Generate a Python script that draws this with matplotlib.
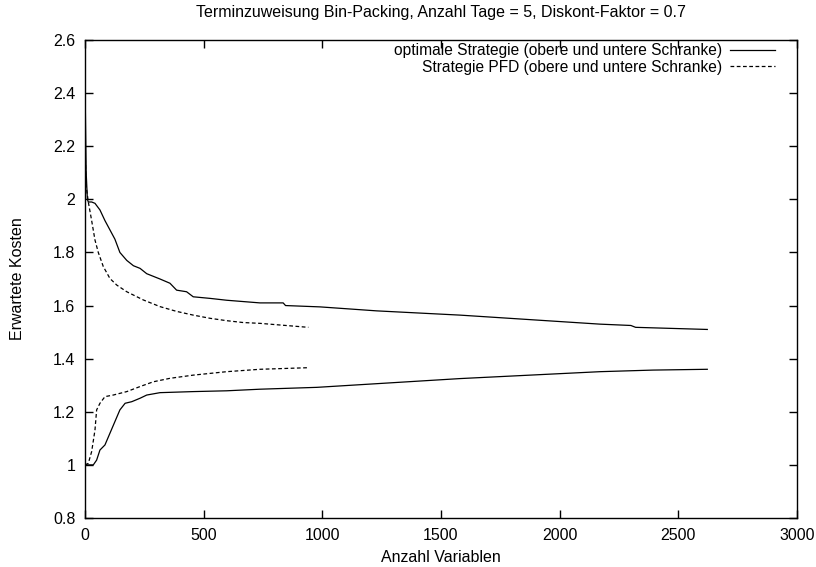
import matplotlib
matplotlib.use("Agg")
import matplotlib.pyplot as plt

plt.rcParams['font.family'] = ['Liberation Sans', 'DejaVu Sans']
plt.rcParams['font.size'] = 11.5

# optimale Strategie, obere Schranke
opt_hi_x = [0, 2, 5, 10, 14, 28, 42, 63, 84, 105, 126, 147, 176, 204, 232, 260, 316, 358,
            386, 428, 456, 527, 597, 737, 835, 845, 990, 1229, 1426, 1580, 2170, 2300, 2320, 2622]
opt_hi_y = [2.44, 2.3, 2.1, 2.0, 1.99, 1.99, 1.985, 1.96, 1.92, 1.885, 1.85, 1.80, 1.77, 1.75,
            1.74, 1.72, 1.70, 1.684, 1.658, 1.652, 1.633, 1.627, 1.62, 1.61, 1.61, 1.60, 1.595,
            1.58, 1.571, 1.564, 1.53, 1.525, 1.518, 1.51]

# optimale Strategie, untere Schranke
opt_lo_x = [0, 35, 49, 63, 84, 105, 126, 147, 169, 197, 232, 260, 316, 456, 597, 737, 977,
            1580, 2170, 2393, 2622]
opt_lo_y = [1.0, 1.0, 1.018, 1.056, 1.075, 1.119, 1.163, 1.207, 1.232, 1.238, 1.251, 1.263,
            1.272, 1.276, 1.279, 1.285, 1.292, 1.325, 1.351, 1.357, 1.36]

# Strategie PFD, obere Schranke
pfd_hi_x = [0, 5, 14, 28, 42, 56, 77, 105, 134, 176, 246, 316, 386, 456, 527, 597, 667, 737, 941]
pfd_hi_y = [2.2, 2.05, 1.99, 1.92, 1.847, 1.80, 1.747, 1.702, 1.677, 1.652, 1.621, 1.596,
            1.578, 1.564, 1.552, 1.543, 1.536, 1.533, 1.518]

# Strategie PFD, untere Schranke
pfd_lo_x = [0, 14, 28, 42, 49, 63, 84, 119, 176, 232, 288, 358, 456, 597, 737, 941]
pfd_lo_y = [1.0, 1.006, 1.05, 1.131, 1.207, 1.232, 1.257, 1.263, 1.276, 1.295, 1.313, 1.326,
            1.338, 1.351, 1.36, 1.366]

fig = plt.figure(figsize=(8.16, 5.67), dpi=100)
ax = fig.add_axes([85 / 816, 49 / 567, 712 / 816, 478 / 567])

ax.plot(opt_hi_x, opt_hi_y, color='black', lw=0.9,
        label='optimale Strategie (obere und untere Schranke)')
ax.plot(opt_lo_x, opt_lo_y, color='black', lw=0.9)
ax.plot(pfd_hi_x, pfd_hi_y, color='black', lw=0.9, dashes=(3, 2),
        label='Strategie PFD (obere und untere Schranke)')
ax.plot(pfd_lo_x, pfd_lo_y, color='black', lw=0.9, dashes=(3, 2))

ax.set_xlim(0, 3000)
ax.set_ylim(0.8, 2.6)
ax.set_xticks([0, 500, 1000, 1500, 2000, 2500, 3000])
ax.set_yticks([0.8, 1, 1.2, 1.4, 1.6, 1.8, 2, 2.2, 2.4, 2.6])
ax.set_yticklabels(['0.8', '1', '1.2', '1.4', '1.6', '1.8', '2', '2.2', '2.4', '2.6'])
ax.tick_params(direction='in', top=True, right=True, length=6, width=1)
ax.tick_params(axis='x', pad=7)
ax.tick_params(axis='y', pad=7)
for s in ax.spines.values():
    s.set_linewidth(1)

fig.text(441 / 816, 1 - 13 / 567,
         'Terminzuweisung Bin-Packing, Anzahl Tage = 5, Diskont-Faktor = 0.7',
         ha='center', va='center', fontsize=11.5)
ax.set_xlabel('Anzahl Variablen')
ax.xaxis.set_label_coords(0.5, -(550 - 518) / 478)
ax.set_ylabel('Erwartete Kosten')
ax.yaxis.set_label_coords(-(85 - 25) / 712, 0.5)

leg = ax.legend(loc='upper right', bbox_to_anchor=(775 / 816, 1 - 43 / 567),
                bbox_transform=fig.transFigure, frameon=False, markerfirst=False,
                fontsize=11.2, handlelength=2.9, borderpad=0, borderaxespad=0,
                labelspacing=0.1, handletextpad=0.5)

fig.savefig('out.png', dpi=100)
